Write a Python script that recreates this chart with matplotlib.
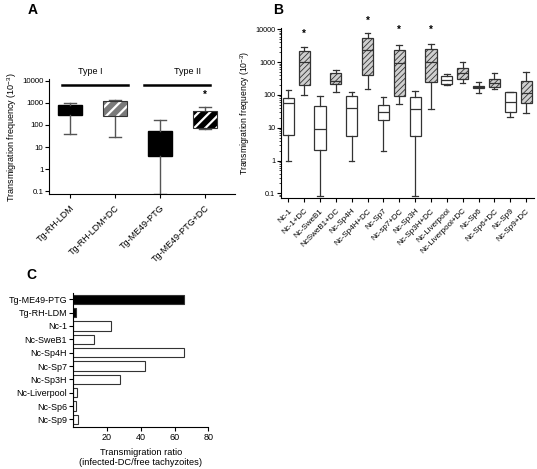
import matplotlib
matplotlib.use('Agg')
import matplotlib.pyplot as plt
from matplotlib.patches import PathPatch
from matplotlib.transforms import blended_transform_factory

plt.rcParams['font.family'] = ['Liberation Sans', 'DejaVu Sans']
plt.rcParams['mathtext.fontset'] = 'custom'
plt.rcParams['mathtext.rm'] = 'Liberation Sans'
plt.rcParams['mathtext.it'] = 'Liberation Sans:italic'
plt.rcParams['axes.linewidth'] = 0.8

# panel A data
a_labels = ['Tg-RH-LDM', 'Tg-RH-LDM+DC', 'Tg-ME49-PTG', 'Tg-ME49-PTG+DC']
a_low = [41, 30, 0.08, 63]
a_q1 = [295, 245, 4.2, 75]
a_med = [500, 550, 15, 180]
a_q3 = [830, 1230, 53, 435]
a_high = [1000, 1400, 160, 620]

# panel B data
b_labels = ['Nc-1', 'Nc-1+DC', 'Nc-SweB1', 'NcSweB1+DC', 'Nc-Sp4H', 'Nc-Sp4H+DC',
            'Nc-Sp7', 'Nc-sp7+DC', 'Nc-Sp3H', 'Nc-Sp3H+DC', 'Nc-Liverpool',
            'Nc-Liverpool+DC', 'Nc-Sp6', 'Nc-Sp6+DC', 'Nc-Sp9', 'Nc-Sp9+DC']
b_low = [1, 100, 0.08, 125, 1, 148, 2, 53, 0.08, 36, 200, 235, 116, 148, 21, 29]
b_q1 = [6, 200, 2.1, 210, 5.7, 405, 17, 95, 5.7, 252, 210, 300, 162, 170, 30, 55]
b_med = [55, 1030, 9, 270, 39, 2350, 30, 920, 36, 1030, 285, 475, 178, 235, 62, 116]
b_q3 = [82, 2230, 46, 455, 95, 5300, 49, 2350, 88, 2450, 378, 675, 190, 300, 120, 270]
b_high = [141, 2820, 95, 575, 120, 7500, 88, 3300, 134, 3500, 425, 1030, 241, 455, 125, 490]
b_star = ['Nc-1+DC', 'Nc-Sp4H+DC', 'Nc-sp7+DC', 'Nc-Sp3H+DC']
b_star_y = [7200, 18000, 10000, 10000]

# panel C data
c_labels = ['Tg-ME49-PTG', 'Tg-RH-LDM', 'Nc-1', 'Nc-SweB1', 'Nc-Sp4H', 'Nc-Sp7',
            'Nc-Sp3H', 'Nc-Liverpool', 'Nc-Sp6', 'Nc-Sp9']
c_ratio = [65.5, 1.6, 22.2, 12.3, 65.5, 42.4, 27.7, 2.0, 1.4, 2.6]

dark = '#333333'
W, H = 537, 469
fig = plt.figure(figsize=(W / 100, H / 100), dpi=100)


def box_stats(labels, low, q1, med, q3, high):
    return [dict(label=l, whislo=a, q1=b, med=c, q3=d, whishi=e)
            for l, a, b, c, d, e in zip(labels, low, q1, med, q3, high)]


def log_axis(ax, fs):
    ax.set_yscale('log')
    ax.set_yticks([0.1, 1, 10, 100, 1000, 10000])
    ax.set_yticklabels(['0.1', '1', '10', '100', '1000', '10000'], fontsize=fs)
    for s in ['top', 'right']:
        ax.spines[s].set_visible(False)
    ax.tick_params(axis='y', which='major', length=3, width=0.8, pad=1)
    ax.tick_params(axis='y', which='minor', length=1.5, width=0.5)
    ax.tick_params(axis='x', length=3, width=0.8)


def hatch_lw(p, lw):
    if hasattr(p, 'set_hatch_linewidth'):
        p.set_hatch_linewidth(lw)


# ---------- A ----------
axA = fig.add_axes([49 / W, 1 - 194 / H, 186 / W, 114.5 / H])
posA = list(range(len(a_labels)))
bpA = axA.bxp(box_stats(a_labels, a_low, a_q1, a_med, a_q3, a_high), positions=posA,
              widths=0.52, capwidths=0.26, patch_artist=True, showfliers=False,
              medianprops=dict(linewidth=0),
              whiskerprops=dict(color='#555555', linewidth=1),
              capprops=dict(color='#555555', linewidth=1))
a_face = ['black', '#7a7a7a', 'black', 'black']
a_hatch = [None, '///', None, '///']
for box, fc, h in zip(bpA['boxes'], a_face, a_hatch):
    box.set_facecolor(fc)
    if h:
        box.set_hatch(h)
        box.set_edgecolor('white')
        box.set_linewidth(0)
        hatch_lw(box, 1.6)
        axA.add_patch(PathPatch(box.get_path(), fill=False, edgecolor=dark, lw=0.8, zorder=3))
    else:
        box.set_edgecolor('black')
log_axis(axA, 5.7)
axA.set_ylim(0.077, 11300)
axA.set_xlim(-0.47, 3.67)
axA.set_xticks(posA)
axA.set_xticklabels(a_labels, rotation=45, ha='right', rotation_mode='anchor', fontsize=6.5)
axA.set_ylabel('Transmigration frequency (10$^{-3}$)', fontsize=6.5, labelpad=2)
tr = blended_transform_factory(axA.transData, axA.transAxes)
axA.plot([-0.17, 1.28], [0.955, 0.955], transform=tr, color='black', lw=1.8, clip_on=False)
axA.plot([1.65, 3.12], [0.955, 0.955], transform=tr, color='black', lw=1.8, clip_on=False)
axA.text(0.44, 1.03, 'Type I', transform=tr, ha='center', va='bottom', fontsize=6.5)
axA.text(2.62, 1.03, 'Type II', transform=tr, ha='center', va='bottom', fontsize=6.5)
axA.text(3, 2250, '*', ha='center', va='center', fontsize=7, fontweight='bold')
fig.text(28 / W, 1 - 10 / H, 'A', fontsize=10, fontweight='bold', va='center')

# ---------- B ----------
axB = fig.add_axes([280.7 / W, 1 - 198.3 / H, 253.3 / W, 170.3 / H])
posB = list(range(len(b_labels)))
bpB = axB.bxp(box_stats(b_labels, b_low, b_q1, b_med, b_q3, b_high), positions=posB,
              widths=0.7, capwidths=0.35, patch_artist=True, showfliers=False,
              boxprops=dict(edgecolor=dark, linewidth=0.9),
              medianprops=dict(color=dark, linewidth=0.9),
              whiskerprops=dict(color=dark, linewidth=0.9),
              capprops=dict(color=dark, linewidth=0.9))
for i, box in enumerate(bpB['boxes']):
    if i % 2 == 1:
        box.set_facecolor('#cfcfcf')
        box.set_hatch('//////')
        hatch_lw(box, 0.6)
    else:
        box.set_facecolor('white')
log_axis(axB, 5.2)
axB.set_ylim(0.0705, 11000)
axB.set_xlim(-0.48, 15.5)
axB.set_xticks(posB)
axB.set_xticklabels(b_labels, rotation=45, ha='right', rotation_mode='anchor', fontsize=5.8)
axB.set_ylabel('Transmigration frequency (10$^{-3}$)', fontsize=6.2, labelpad=2)
for lab, y in zip(b_star, b_star_y):
    axB.text(b_labels.index(lab), y, '*', ha='center', va='center', fontsize=7,
             fontweight='bold', clip_on=False)
fig.text(273 / W, 1 - 10 / H, 'B', fontsize=10, fontweight='bold', va='center')

# ---------- C ----------
axC = fig.add_axes([73.3 / W, 1 - 426.7 / H, 135 / W, 133.4 / H])
posC = list(range(len(c_labels)))
c_face = ['black', 'black'] + ['white'] * (len(c_labels) - 2)
axC.barh(posC, c_ratio, height=0.68, color=c_face, edgecolor=dark, linewidth=0.8)
axC.set_ylim(9.55, -0.45)
axC.set_xlim(0, 80)
axC.set_xticks([20, 40, 60, 80])
axC.set_xticklabels(['20', '40', '60', '80'], fontsize=6.5)
axC.set_yticks(posC)
axC.set_yticklabels(c_labels, fontsize=6.5)
for s in ['top', 'right']:
    axC.spines[s].set_visible(False)
axC.tick_params(length=3, width=0.8, pad=1.5)
axC.set_xlabel('Transmigration ratio\n(infected-DC/free tachyzoites)', fontsize=6.7, labelpad=4)
fig.text(26 / W, 1 - 275 / H, 'C', fontsize=10, fontweight='bold', va='center')

fig.savefig('out.png', dpi=100)
